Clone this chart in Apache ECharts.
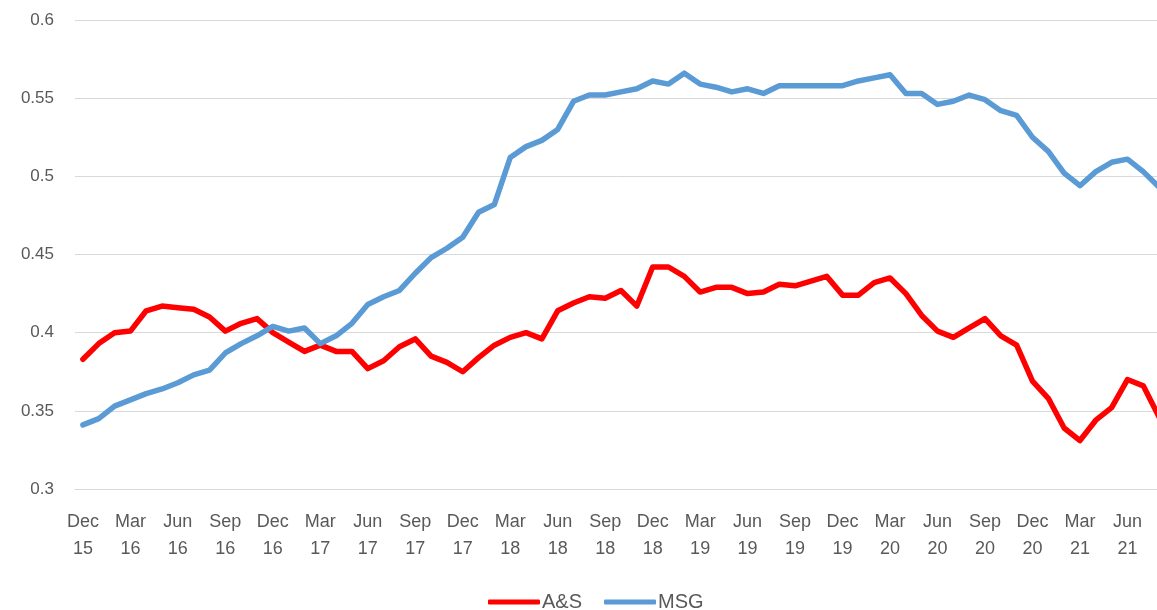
<!DOCTYPE html>
<html>
<head>
<meta charset="utf-8">
<script src="https://cdn.jsdelivr.net/npm/echarts@6/dist/echarts.min.js"></script>
<style>
  html, body { margin: 0; padding: 0; background: #ffffff; }
  #chart { width: 1157px; height: 610px; }
</style>
</head>
<body>
<div id="chart"></div>
<script>
// Monthly categories Dec 15 .. Aug 21
const months = ['Dec 15','Jan 16','Feb 16','Mar 16','Apr 16','May 16','Jun 16','Jul 16','Aug 16','Sep 16','Oct 16','Nov 16',
  'Dec 16','Jan 17','Feb 17','Mar 17','Apr 17','May 17','Jun 17','Jul 17','Aug 17','Sep 17','Oct 17','Nov 17',
  'Dec 17','Jan 18','Feb 18','Mar 18','Apr 18','May 18','Jun 18','Jul 18','Aug 18','Sep 18','Oct 18','Nov 18',
  'Dec 18','Jan 19','Feb 19','Mar 19','Apr 19','May 19','Jun 19','Jul 19','Aug 19','Sep 19','Oct 19','Nov 19',
  'Dec 19','Jan 20','Feb 20','Mar 20','Apr 20','May 20','Jun 20','Jul 20','Aug 20','Sep 20','Oct 20','Nov 20',
  'Dec 20','Jan 21','Feb 21','Mar 21','Apr 21','May 21','Jun 21','Jul 21','Aug 21'];

const asValues = [0.383,0.393,0.400,0.401,0.414,0.417,0.416,0.415,0.410,0.401,0.406,0.409,
  0.400,0.394,0.388,0.392,0.388,0.388,0.377,0.382,0.391,0.396,0.385,0.381,
  0.375,0.384,0.392,0.397,0.400,0.396,0.414,0.419,0.423,0.422,0.427,0.417,
  0.442,0.442,0.436,0.426,0.429,0.429,0.425,0.426,0.431,0.430,0.433,0.436,
  0.424,0.424,0.432,0.435,0.425,0.411,0.401,0.397,0.403,0.409,0.398,0.392,
  0.369,0.358,0.339,0.331,0.344,0.352,0.370,0.366,0.346];

const msgValues = [0.341,0.345,0.353,0.357,0.361,0.364,0.368,0.373,0.376,0.387,0.393,0.398,
  0.404,0.401,0.403,0.393,0.398,0.406,0.418,0.423,0.427,0.438,0.448,0.454,
  0.461,0.477,0.482,0.512,0.519,0.523,0.530,0.548,0.552,0.552,0.554,0.556,
  0.561,0.559,0.566,0.559,0.557,0.554,0.556,0.553,0.558,0.558,0.558,0.558,
  0.558,0.561,0.563,0.565,0.553,0.553,0.546,0.548,0.552,0.549,0.542,0.539,
  0.525,0.516,0.502,0.494,0.503,0.509,0.511,0.503,0.493];

const yTicks = { min: 0.3, max: 0.6, interval: 0.05 };
const seriesNames = ['A&S', 'MSG'];
const seriesColors = ['#FF0000', '#5B9BD5'];

const chart = echarts.init(document.getElementById('chart'), null, { renderer: 'canvas' });
const textColor = '#595959';
const fontFam = "'Liberation Sans', 'DejaVu Sans', sans-serif";

chart.setOption({
  animation: false,
  backgroundColor: '#ffffff',
  grid: { left: 75, width: 1092, top: 20, bottom: 121, containLabel: false, outerBoundsMode: 'none' },
  xAxis: {
    type: 'category',
    data: months,
    boundaryGap: true,
    axisLine: { show: true, lineStyle: { color: '#D9D9D9', width: 1 } },
    axisTick: { show: false },
    splitLine: { show: false },
    axisLabel: {
      interval: 2,
      color: textColor,
      fontSize: 18,
      fontFamily: fontFam,
      lineHeight: 27,
      margin: 20,
      formatter: function (v) { return v.replace(' ', '\n'); }
    }
  },
  yAxis: {
    type: 'value',
    min: yTicks.min,
    max: yTicks.max,
    interval: yTicks.interval,
    axisLine: { show: false },
    axisTick: { show: false },
    splitLine: { show: true, lineStyle: { color: '#D9D9D9', width: 1 } },
    axisLabel: {
      color: textColor,
      fontSize: 17,
      fontFamily: fontFam,
      margin: 21,
      formatter: function (v) { return String(parseFloat(v.toFixed(2))); }
    }
  },
  legend: {
    data: seriesNames,
    top: 587,
    left: 483,
    itemWidth: 52,
    itemHeight: 5,
    itemGap: 22,
    icon: 'roundRect',
    textStyle: { color: textColor, fontSize: 20, fontFamily: fontFam, padding: [0, 0, 0, -3] }
  },
  series: [
    {
      name: seriesNames[0], type: 'line', data: asValues,
      symbol: 'none', smooth: false,
      lineStyle: { color: seriesColors[0], width: 5.5, join: 'round', cap: 'round' },
      itemStyle: { color: seriesColors[0] }
    },
    {
      name: seriesNames[1], type: 'line', data: msgValues,
      symbol: 'none', smooth: false,
      lineStyle: { color: seriesColors[1], width: 5.5, join: 'round', cap: 'round' },
      itemStyle: { color: seriesColors[1] }
    }
  ]
});
</script>
</body>
</html>
